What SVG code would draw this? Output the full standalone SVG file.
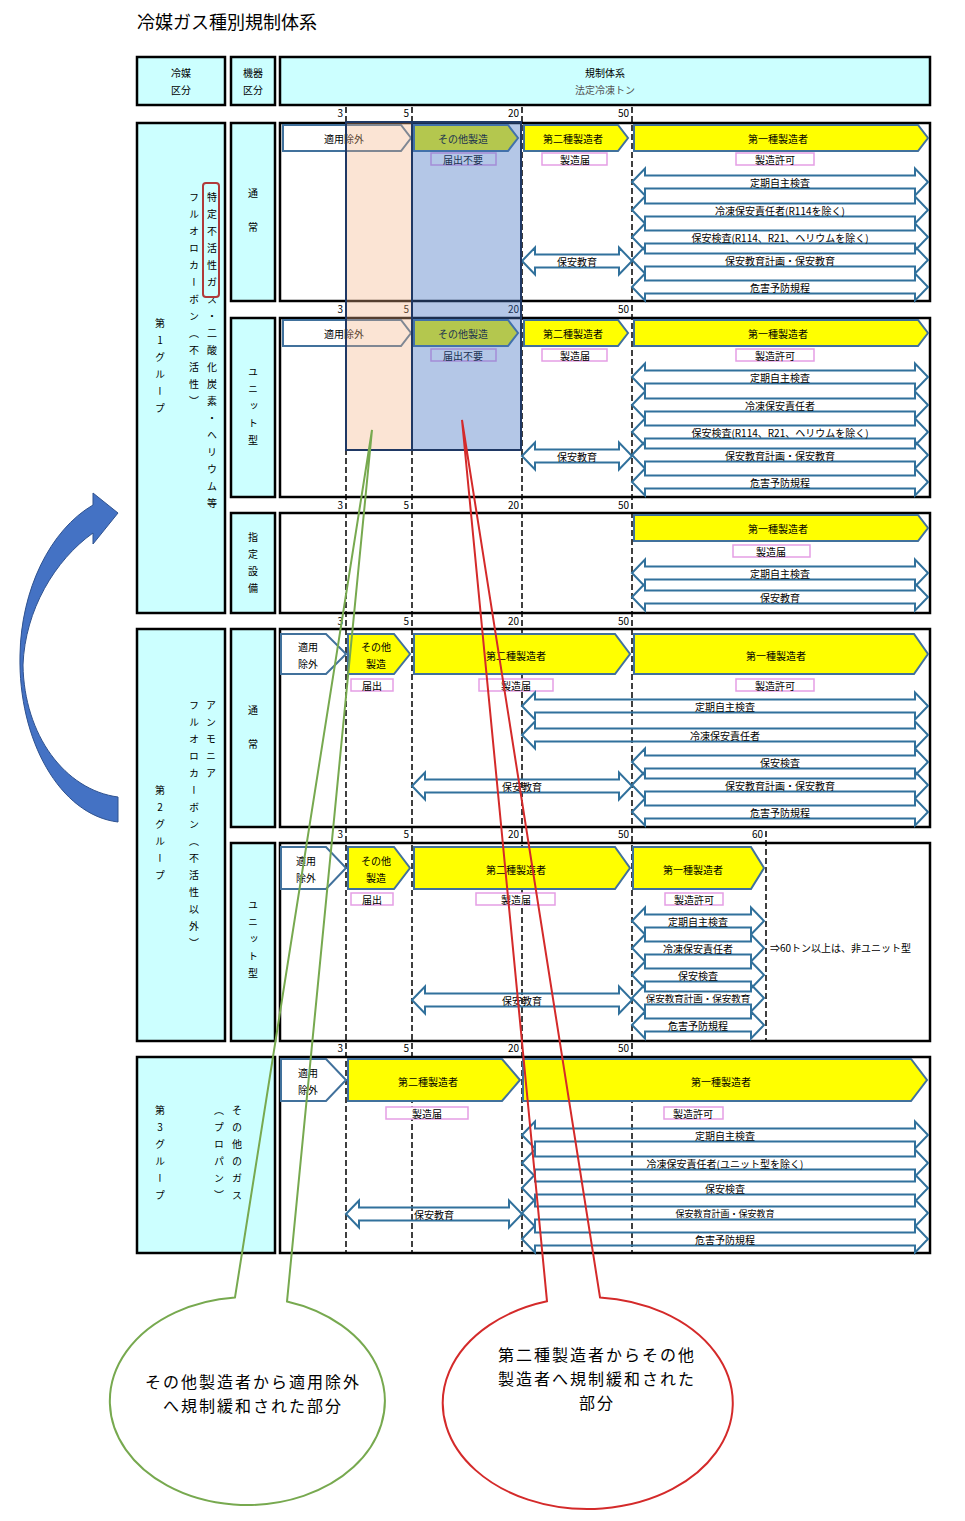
<svg xmlns="http://www.w3.org/2000/svg" width="965" height="1521" viewBox="0 0 965 1521">
<style>
text{font-family:"Noto Sans CJK JP","Noto Sans",sans-serif;font-size:10px;fill:#000}
.c{text-anchor:middle;dominant-baseline:central}
.e{text-anchor:end}
.v{writing-mode:vertical-rl;text-orientation:upright;letter-spacing:7px}
.box{fill:#fff;stroke:#000;stroke-width:2.5}
.cy{fill:#CCFFFF;stroke:#000;stroke-width:2.5}
.pw{fill:#fff;stroke:#41719C;stroke-width:2}
.py{fill:#FFFF00;stroke:#41719C;stroke-width:2}
.da{fill:none;stroke:#31719C;stroke-width:2}
.lb{fill:#fff;stroke:#E59EE5;stroke-width:1.5}
.dash{stroke:#000;stroke-width:1.5;stroke-dasharray:6 3;fill:none}
.big{font-size:18px}
.co{font-size:16px;letter-spacing:2px;text-anchor:middle;dominant-baseline:central}
</style>
<rect width="965" height="1521" fill="#fff"/>
<text x="137" y="29" class="big">冷媒ガス種別規制体系</text>

<g id="header">
<rect class="cy" x="137" y="57" width="88" height="48"/>
<rect class="cy" x="231" y="57" width="44" height="48"/>
<rect class="cy" x="280" y="57" width="650" height="48"/>
<text class="c" x="181" y="72">冷媒</text><text class="c" x="181" y="89">区分</text>
<text class="c" x="253" y="72">機器</text><text class="c" x="253" y="89">区分</text>
<text class="c" x="605" y="72">規制体系</text><text class="c" x="605" y="89" style="fill:#555">法定冷凍トン</text>
</g>

<g id="group1">
<rect class="cy" x="137" y="123" width="88" height="490"/>
<text class="v" x="160" y="318">第1グループ</text>
<text class="v" x="194" y="192">フルオロカーボン（不活性）</text>
<text class="v" x="212" y="192">特定不活性ガス・二酸化炭素・ヘリウム等</text>
<rect x="203" y="183" width="16" height="114" rx="3" fill="none" stroke="#B03A3A" stroke-width="2"/>
<rect class="cy" x="231" y="123" width="44" height="178"/>
<text class="v" x="253" y="188" style="letter-spacing:24px">通常</text>
<rect class="cy" x="231" y="318" width="44" height="179"/>
<text class="v" x="253" y="367">ユニット型</text>
<rect class="cy" x="231" y="513" width="44" height="100"/>
<text class="v" x="253" y="532">指定設備</text>
</g>

<g id="group2">
<rect class="cy" x="137" y="629" width="88" height="412"/>
<text class="v" x="160" y="785">第2グループ</text>
<text class="v" x="194" y="700">フルオロカーボン（不活性以外）</text>
<text class="v" x="211" y="700">アンモニア</text>
<rect class="cy" x="231" y="629" width="44" height="198"/>
<text class="v" x="253" y="705" style="letter-spacing:24px">通常</text>
<rect class="cy" x="231" y="843" width="44" height="198"/>
<text class="v" x="253" y="900">ユニット型</text>
</g>

<g id="group3">
<rect class="cy" x="137" y="1057" width="138" height="196"/>
<text class="v" x="160" y="1105">第3グループ</text>
<text class="v" x="219" y="1105">（プロパン）</text>
<text class="v" x="237" y="1105">その他のガス</text>
</g>

<g id="rows">
<rect class="box" x="280" y="123" width="650" height="178"/>
<rect class="box" x="280" y="318" width="650" height="179"/>
<rect class="box" x="280" y="513" width="650" height="100"/>
<rect class="box" x="280" y="629" width="650" height="198"/>
<rect class="box" x="280" y="843" width="650" height="198"/>
<rect class="box" x="280" y="1057" width="650" height="196"/>
</g>

<g id="scale">
<path class="dash" d="M346 107V1253M412 107V1253M522 107V1253M632 107V1253M766 831V1041"/>
<text class="e" x="343" y="117">3</text><text class="e" x="409" y="117">5</text><text class="e" x="519" y="117">20</text><text class="e" x="629" y="117">50</text>
<text class="e" x="343" y="313">3</text><text class="e" x="409" y="313">5</text><text class="e" x="519" y="313">20</text><text class="e" x="629" y="313">50</text>
<text class="e" x="343" y="509">3</text><text class="e" x="409" y="509">5</text><text class="e" x="519" y="509">20</text><text class="e" x="629" y="509">50</text>
<text class="e" x="343" y="625">3</text><text class="e" x="409" y="625">5</text><text class="e" x="519" y="625">20</text><text class="e" x="629" y="625">50</text>
<text class="e" x="343" y="838">3</text><text class="e" x="409" y="838">5</text><text class="e" x="519" y="838">20</text><text class="e" x="629" y="838">50</text><text class="e" x="763" y="838">60</text>
<text class="e" x="343" y="1052">3</text><text class="e" x="409" y="1052">5</text><text class="e" x="519" y="1052">20</text><text class="e" x="629" y="1052">50</text>
</g>

<g id="row1">
<path class="pw" d="M283 125H401L411 138L401 151H283Z"/>
<path class="py" d="M414 125H508L518 138L508 151H414Z"/>
<path class="py" d="M524 125H618L628 138L618 151H524Z"/>
<path class="py" d="M634 125H918L928 138L918 151H634Z"/>
<text class="c" x="344" y="138">適用除外</text><text class="c" x="463" y="138">その他製造</text><text class="c" x="573" y="138">第二種製造者</text><text class="c" x="778" y="138">第一種製造者</text>
<rect class="lb" x="431" y="153" width="65" height="12"/><text class="c" x="463" y="159">届出不要</text>
<rect class="lb" x="542" y="153" width="65" height="12"/><text class="c" x="575" y="159">製造届</text>
<rect class="lb" x="736" y="153" width="78" height="12"/><text class="c" x="775" y="159">製造許可</text>
<path class="da" d="M632 182L645 168.5V175.5H915V168.5L928 182L915 195.5V188.5H645V195.5Z"/><text class="c" x="780" y="182">定期自主検査</text>
<path class="da" d="M632 210L645 196.5V203.5H915V196.5L928 210L915 223.5V216.5H645V223.5Z"/><text class="c" x="780" y="210">冷凍保安責任者(R114を除く)</text>
<path class="da" d="M632 237L645 223.5V230.5H915V223.5L928 237L915 250.5V243.5H645V250.5Z"/><text class="c" x="780" y="237">保安検査(R114、R21、ヘリウムを除く)</text>
<path class="da" d="M632 260L645 246.5V253.5H915V246.5L928 260L915 273.5V266.5H645V273.5Z"/><text class="c" x="780" y="260">保安教育計画・保安教育</text>
<path class="da" d="M632 287L645 273.5V280.5H915V273.5L928 287L915 300.5V293.5H645V300.5Z"/><text class="c" x="780" y="287">危害予防規程</text>
<path class="da" d="M522 261L535 247.5V254.5H619V247.5L632 261L619 274.5V267.5H535V274.5Z"/><text class="c" x="577" y="261">保安教育</text>
</g>

<g id="row2">
<path class="pw" d="M283 320H401L411 333L401 346H283Z"/>
<path class="py" d="M414 320H508L518 333L508 346H414Z"/>
<path class="py" d="M524 320H618L628 333L618 346H524Z"/>
<path class="py" d="M634 320H918L928 333L918 346H634Z"/>
<text class="c" x="344" y="333">適用除外</text><text class="c" x="463" y="333">その他製造</text><text class="c" x="573" y="333">第二種製造者</text><text class="c" x="778" y="333">第一種製造者</text>
<rect class="lb" x="431" y="349" width="65" height="12"/><text class="c" x="463" y="355">届出不要</text>
<rect class="lb" x="542" y="349" width="65" height="12"/><text class="c" x="575" y="355">製造届</text>
<rect class="lb" x="736" y="349" width="78" height="12"/><text class="c" x="775" y="355">製造許可</text>
<path class="da" d="M632 377L645 363.5V370.5H915V363.5L928 377L915 390.5V383.5H645V390.5Z"/><text class="c" x="780" y="377">定期自主検査</text>
<path class="da" d="M632 405L645 391.5V398.5H915V391.5L928 405L915 418.5V411.5H645V418.5Z"/><text class="c" x="780" y="405">冷凍保安責任者</text>
<path class="da" d="M632 432L645 418.5V425.5H915V418.5L928 432L915 445.5V438.5H645V445.5Z"/><text class="c" x="780" y="432">保安検査(R114、R21、ヘリウムを除く)</text>
<path class="da" d="M632 455L645 441.5V448.5H915V441.5L928 455L915 468.5V461.5H645V468.5Z"/><text class="c" x="780" y="455">保安教育計画・保安教育</text>
<path class="da" d="M632 482L645 468.5V475.5H915V468.5L928 482L915 495.5V488.5H645V495.5Z"/><text class="c" x="780" y="482">危害予防規程</text>
<path class="da" d="M522 456L535 442.5V449.5H619V442.5L632 456L619 469.5V462.5H535V469.5Z"/><text class="c" x="577" y="456">保安教育</text>
</g>

<g id="row3">
<path class="py" d="M634 515H918L928 528L918 541H634Z"/>
<text class="c" x="778" y="528">第一種製造者</text>
<rect class="lb" x="733" y="545" width="77" height="12"/><text class="c" x="771" y="551">製造届</text>
<path class="da" d="M632 573L645 559.5V566.5H915V559.5L928 573L915 586.5V579.5H645V586.5Z"/><text class="c" x="780" y="573">定期自主検査</text>
<path class="da" d="M632 597L645 583.5V590.5H915V583.5L928 597L915 610.5V603.5H645V610.5Z"/><text class="c" x="780" y="597">保安教育</text>
</g>

<g id="row4">
<path class="pw" d="M281 634H326L346 654L326 674H281Z"/>
<path class="py" d="M348 634H394L410 654L394 674H348Z"/>
<path class="py" d="M414 634H615L630 654L615 674H414Z"/>
<path class="py" d="M634 634H914L928 654L914 674H634Z"/>
<text class="c" x="308" y="646">適用</text><text class="c" x="308" y="663">除外</text>
<text class="c" x="376" y="646">その他</text><text class="c" x="376" y="663">製造</text>
<text class="c" x="516" y="655">第二種製造者</text><text class="c" x="776" y="655">第一種製造者</text>
<rect class="lb" x="351" y="679" width="42" height="12"/><text class="c" x="372" y="685">届出</text>
<rect class="lb" x="479" y="679" width="74" height="12"/><text class="c" x="516" y="685">製造届</text>
<rect class="lb" x="736" y="679" width="78" height="12"/><text class="c" x="775" y="685">製造許可</text>
<path class="da" d="M522 706L535 692.5V699.5H915V692.5L928 706L915 719.5V712.5H535V719.5Z"/><text class="c" x="725" y="706">定期自主検査</text>
<path class="da" d="M522 735L535 721.5V728.5H915V721.5L928 735L915 748.5V741.5H535V748.5Z"/><text class="c" x="725" y="735">冷凍保安責任者</text>
<path class="da" d="M632 762L645 748.5V755.5H915V748.5L928 762L915 775.5V768.5H645V775.5Z"/><text class="c" x="780" y="762">保安検査</text>
<path class="da" d="M632 785L645 771.5V778.5H915V771.5L928 785L915 798.5V791.5H645V798.5Z"/><text class="c" x="780" y="785">保安教育計画・保安教育</text>
<path class="da" d="M632 812L645 798.5V805.5H915V798.5L928 812L915 825.5V818.5H645V825.5Z"/><text class="c" x="780" y="812">危害予防規程</text>
<path class="da" d="M412 786L425 772.5V779.5H619V772.5L632 786L619 799.5V792.5H425V799.5Z"/><text class="c" x="522" y="786">保安教育</text>
</g>

<g id="row5">
<path class="pw" d="M281 847H326L346 868L326 889H281Z"/>
<path class="py" d="M348 847H394L410 868L394 889H348Z"/>
<path class="py" d="M414 847H615L630 868L615 889H414Z"/>
<path class="py" d="M633 847H751L764 868L751 889H633Z"/>
<text class="c" x="306" y="860">適用</text><text class="c" x="306" y="877">除外</text>
<text class="c" x="376" y="860">その他</text><text class="c" x="376" y="877">製造</text>
<text class="c" x="516" y="869">第二種製造者</text><text class="c" x="693" y="869">第一種製造者</text>
<rect class="lb" x="351" y="893" width="42" height="12"/><text class="c" x="372" y="899">届出</text>
<rect class="lb" x="476" y="893" width="79" height="12"/><text class="c" x="516" y="899">製造届</text>
<rect class="lb" x="665" y="893" width="58" height="12"/><text class="c" x="694" y="899">製造許可</text>
<path class="da" d="M632 921L645 907.5V914.5H751V907.5L764 921L751 934.5V927.5H645V934.5Z"/><text class="c" x="698" y="921">定期自主検査</text>
<path class="da" d="M632 948L645 934.5V941.5H751V934.5L764 948L751 961.5V954.5H645V961.5Z"/><text class="c" x="698" y="948">冷凍保安責任者</text>
<path class="da" d="M632 975L645 961.5V968.5H751V961.5L764 975L751 988.5V981.5H645V988.5Z"/><text class="c" x="698" y="975">保安検査</text>
<path class="da" d="M632 998L645 984.5V991.5H751V984.5L764 998L751 1011.5V1004.5H645V1011.5Z"/><text class="c" x="698" y="998" style="font-size:9.5px">保安教育計画・保安教育</text>
<path class="da" d="M632 1025L645 1011.5V1018.5H751V1011.5L764 1025L751 1038.5V1031.5H645V1038.5Z"/><text class="c" x="698" y="1025">危害予防規程</text>
<path class="da" d="M412 1000L425 986.5V993.5H619V986.5L632 1000L619 1013.5V1006.5H425V1013.5Z"/><text class="c" x="522" y="1000">保安教育</text>
<text x="770" y="952">⇒60トン以上は、非ユニット型</text>
</g>

<g id="row6">
<path class="pw" d="M281 1059H326L346 1080L326 1101H281Z"/>
<path class="py" d="M348 1059H502L520 1080L502 1101H348Z"/>
<path class="py" d="M523 1059H911L927 1080L911 1101H523Z"/>
<text class="c" x="308" y="1072">適用</text><text class="c" x="308" y="1089">除外</text>
<text class="c" x="428" y="1081">第二種製造者</text><text class="c" x="721" y="1081">第一種製造者</text>
<rect class="lb" x="386" y="1107" width="82" height="12"/><text class="c" x="427" y="1113">製造届</text>
<rect class="lb" x="664" y="1107" width="59" height="12"/><text class="c" x="693" y="1113">製造許可</text>
<path class="da" d="M522 1135L535 1121.5V1128.5H915V1121.5L928 1135L915 1148.5V1141.5H535V1148.5Z"/><text class="c" x="725" y="1135">定期自主検査</text>
<path class="da" d="M522 1163L535 1149.5V1156.5H915V1149.5L928 1163L915 1176.5V1169.5H535V1176.5Z"/><text class="c" x="725" y="1163">冷凍保安責任者(ユニット型を除く)</text>
<path class="da" d="M522 1188L535 1174.5V1181.5H915V1174.5L928 1188L915 1201.5V1194.5H535V1201.5Z"/><text class="c" x="725" y="1188">保安検査</text>
<path class="da" d="M522 1213L535 1199.5V1206.5H915V1199.5L928 1213L915 1226.5V1219.5H535V1226.5Z"/><text class="c" x="725" y="1213" style="font-size:9px">保安教育計画・保安教育</text>
<path class="da" d="M522 1239L535 1225.5V1232.5H915V1225.5L928 1239L915 1252.5V1245.5H535V1252.5Z"/><text class="c" x="725" y="1239">危害予防規程</text>
<path class="da" d="M346 1214L359 1200.5V1207.5H509V1200.5L522 1214L509 1227.5V1220.5H359V1227.5Z"/><text class="c" x="434" y="1214">保安教育</text>
</g>

<g id="overlays">
<rect x="346" y="122" width="66" height="328" fill="#F4B183" fill-opacity="0.35" stroke="#1F3864" stroke-width="2"/>
<rect x="412" y="122" width="109" height="328" fill="#4472C4" fill-opacity="0.4" stroke="#1F3864" stroke-width="2"/>
</g>

<g id="curved-arrow">
<path d="M118 822C60 815 18 740 20 655C21 590 50 530 93 505L93 493L118 513L93 544L93 533C55 560 25 610 23 665C24 735 65 790 118 797Z" fill="#4472C4" stroke="#2F528F" stroke-width="1"/>
</g>

<g id="callout-green">
<path d="M372 430L287 1301.4A137.5 104 0 1 1 235 1297.4Z" fill="none" stroke="#77A94F" stroke-width="2"/>
<text class="co" x="253" y="1381">その他製造者から適用除外</text>
<text class="co" x="253" y="1405">へ規制緩和された部分</text>
</g>

<g id="callout-red">
<path d="M462 420L600 1297.4A145 106 0 1 1 547 1301.3Z" fill="none" stroke="#D42A2A" stroke-width="2"/>
<text class="co" x="597" y="1354">第二種製造者からその他</text>
<text class="co" x="597" y="1378">製造者へ規制緩和された</text>
<text class="co" x="597" y="1402">部分</text>
</g>
</svg>
